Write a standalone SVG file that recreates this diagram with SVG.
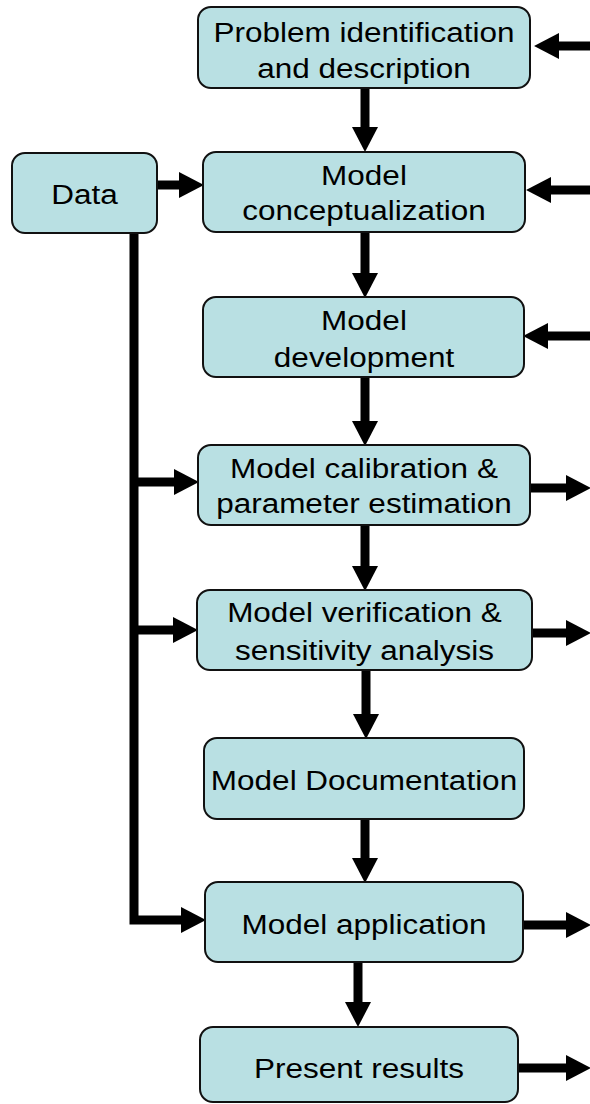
<svg xmlns="http://www.w3.org/2000/svg" width="590" height="1104" viewBox="0 0 590 1104">
<style>
.box{fill:#b9e0e3;stroke:#111;stroke-width:2}
.t{font-family:"Liberation Sans",Arial,sans-serif;font-size:31.5px;fill:#000;text-anchor:middle}
.c{fill:none;stroke:#000;stroke-width:9;stroke-linejoin:miter}
</style>
<defs>
<marker id="ah" markerUnits="userSpaceOnUse" markerWidth="26" markerHeight="26" refX="0" refY="12.5" orient="auto" viewBox="0 0 25 25">
<path d="M0,0 L24,12.5 L0,25 Z" fill="#000"/>
</marker>
</defs>
<g id="connectors">
<path class="c" d="M365,88 V127" marker-end="url(#ah)"/>
<path class="c" d="M365,232 V273" marker-end="url(#ah)"/>
<path class="c" d="M365,377 V421" marker-end="url(#ah)"/>
<path class="c" d="M365,525 V566" marker-end="url(#ah)"/>
<path class="c" d="M366,670 V714" marker-end="url(#ah)"/>
<path class="c" d="M365,819 V858" marker-end="url(#ah)"/>
<path class="c" d="M358,962 V1002" marker-end="url(#ah)"/>
<path class="c" d="M157,185 H179" marker-end="url(#ah)"/>
<path class="c" d="M134,233 V920 H181" marker-end="url(#ah)"/>
<path class="c" d="M134,482 H174" marker-end="url(#ah)"/>
<path class="c" d="M134,630 H173" marker-end="url(#ah)"/>
<path class="c" d="M590,46 H559" marker-end="url(#ah)"/>
<path class="c" d="M590,190 H551" marker-end="url(#ah)"/>
<path class="c" d="M590,336 H548" marker-end="url(#ah)"/>
<path class="c" d="M530,488 H566" marker-end="url(#ah)"/>
<path class="c" d="M532,633 H566" marker-end="url(#ah)"/>
<path class="c" d="M523,925 H566" marker-end="url(#ah)"/>
<path class="c" d="M518,1068 H566" marker-end="url(#ah)"/>
</g>
<g id="n1"><rect class="box" x="198" y="7" width="332" height="81" rx="13"/>
<text class="t" transform="translate(364,42) scale(1,0.88)">Problem identification</text>
<text class="t" transform="translate(364,78) scale(1,0.88)">and description</text></g>
<g id="n2"><rect class="box" x="203" y="152" width="322" height="80" rx="13"/>
<text class="t" transform="translate(364,185) scale(1,0.88)">Model</text>
<text class="t" transform="translate(364,220) scale(1,0.88)">conceptualization</text></g>
<g id="data"><rect class="box" x="12" y="153" width="145" height="80" rx="13"/>
<text class="t" transform="translate(84.5,204) scale(1,0.88)">Data</text></g>
<g id="n3"><rect class="box" x="203" y="297" width="321" height="80" rx="13"/>
<text class="t" transform="translate(364,330) scale(1,0.88)">Model</text>
<text class="t" transform="translate(364,367) scale(1,0.88)">development</text></g>
<g id="n4"><rect class="box" x="198" y="445" width="332" height="80" rx="13"/>
<text class="t" transform="translate(364,478) scale(1,0.88)">Model calibration &amp;</text>
<text class="t" transform="translate(364,513) scale(1,0.88)">parameter estimation</text></g>
<g id="n5"><rect class="box" x="197" y="590" width="335" height="80" rx="13"/>
<text class="t" transform="translate(364.5,622) scale(1,0.88)">Model verification &amp;</text>
<text class="t" transform="translate(364.5,660) scale(1,0.88)">sensitivity analysis</text></g>
<g id="n6"><rect class="box" x="204" y="738" width="320" height="81" rx="13"/>
<text class="t" transform="translate(364,790) scale(1,0.88)">Model Documentation</text></g>
<g id="n7"><rect class="box" x="205" y="882" width="318" height="80" rx="13"/>
<text class="t" transform="translate(364,934) scale(1,0.88)">Model application</text></g>
<g id="n8"><rect class="box" x="200" y="1027" width="318" height="75" rx="13"/>
<text class="t" transform="translate(359,1078) scale(1,0.88)">Present results</text></g>
</svg>
